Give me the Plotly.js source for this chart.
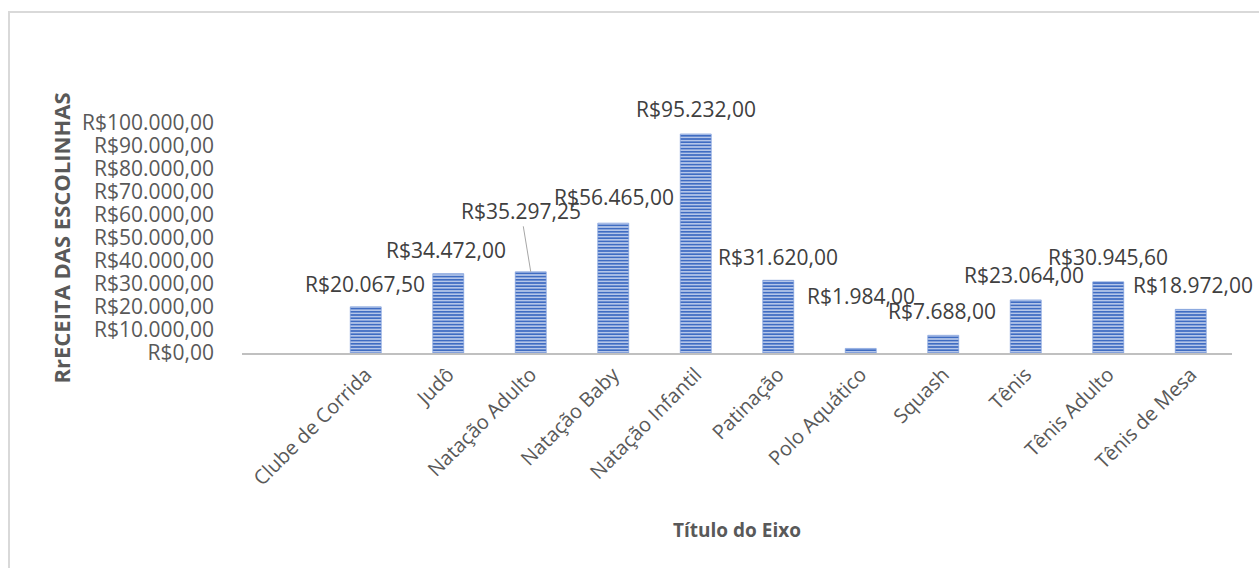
<!DOCTYPE html>
<html>
<head>
<meta charset="utf-8">
<script src="https://cdn.plot.ly/plotly-3.0.1.min.js"></script>
<style>
  html, body { margin: 0; padding: 0; background: #fff; overflow: hidden; }
  #chart { position: absolute; left: 0; top: 0; width: 1259px; height: 568px; }
  #frame { position: absolute; left: 8px; top: 11px; width: 1400px; height: 700px;
           border-left: 2px solid #d9d9d9; border-top: 2px solid #d9d9d9; pointer-events: none; }
</style>
</head>
<body>
<div id="chart"></div>
<div id="frame"></div>
<script>
// receita por escolinha (R$)
const categories = [
  'Clube de Corrida', 'Judô', 'Natação Adulto', 'Natação Baby', 'Natação Infantil',
  'Patinação', 'Polo Aquático', 'Squash', 'Tênis', 'Tênis Adulto', 'Tênis de Mesa',
];
const receita = [20067.5, 34472, 35297.25, 56465, 95232, 31620, 1984, 7688, 23064, 30945.6, 18972];

const FONT = 'Open Sans, sans-serif';
const TXT = '#595959';

// "R$20.067,50"
function brl(v) {
  const [int, dec] = v.toFixed(2).split('.');
  return 'R$' + int.replace(/\B(?=(\d{3})+(?!\d))/g, '.') + ',' + dec;
}

// label offsets (px) to follow the original placement of the data labels
const labelShift = [
  [-1, 23], [-2, 24], [-10, 61], [1, 26], [0, 25], [0, 23],
  [0, 52], [-1, 24], [-2, 25], [0, 25], [2, 24],
];

const trace = {
  type: 'bar',
  x: categories,
  y: receita,
  marker: {
    color: '#4472c4',
    line: { color: '#7b9cdb', width: 0.7 },
    pattern: { shape: '-', bgcolor: '#3f6cc2', fgcolor: '#d3def4', size: 3.2, solidity: 0.4 },
  },
  hoverinfo: 'x+y',
};

const annotations = receita.map((v, i) => {
  const [dx, dy] = labelShift[i];
  const a = {
    x: categories[i], y: v, xref: 'x', yref: 'y',
    text: brl(v),
    font: { family: FONT, size: 21, color: '#404040' },
    xanchor: 'center', yanchor: 'middle',
    showarrow: false, xshift: dx, yshift: dy,
  };
  if (i === 2) {
    // leader line for the displaced label
    Object.assign(a, {
      showarrow: true, ax: dx, ay: -dy, xshift: 0, yshift: 0,
      arrowhead: 0, arrowwidth: 1, arrowcolor: '#a6a6a6', standoff: 0,
    });
  }
  return a;
});

const layout = {
  width: 1259, height: 568,
  margin: { l: 242, r: 27, t: 123, b: 215 },
  paper_bgcolor: 'rgba(0,0,0,0)',
  plot_bgcolor: 'rgba(0,0,0,0)',
  font: { family: FONT, size: 20, color: TXT },
  separators: ',.',
  bargap: 0.625,
  showlegend: false,
  xaxis: {
    type: 'category',
    range: [-1.5, categories.length - 0.5],
    tickangle: -45,
    showline: true, linecolor: '#c0c0c0', linewidth: 2,
    showgrid: false, ticks: '',
    tickfont: { family: FONT, size: 20, color: TXT },
    title: { text: 'Título do Eixo', font: { family: FONT, size: 19, color: TXT, weight: 'bold' }, standoff: 34 },
  },
  yaxis: {
    range: [0, 100000],
    dtick: 10000,
    tickformat: ',.2f',
    tickprefix: 'R$',
    showgrid: false, zeroline: false, showline: false, ticks: '',
    ticklabelstandoff: 27,
    tickfont: { family: FONT, size: 21, color: TXT },
    title: { text: 'RrECEITA DAS ESCOLINHAS', font: { family: FONT, size: 22, color: TXT, weight: 'bold' }, standoff: 5 },
  },
  annotations,
};

Plotly.newPlot('chart', [trace], layout, { displayModeBar: false, staticPlot: true });
</script>
</body>
</html>
